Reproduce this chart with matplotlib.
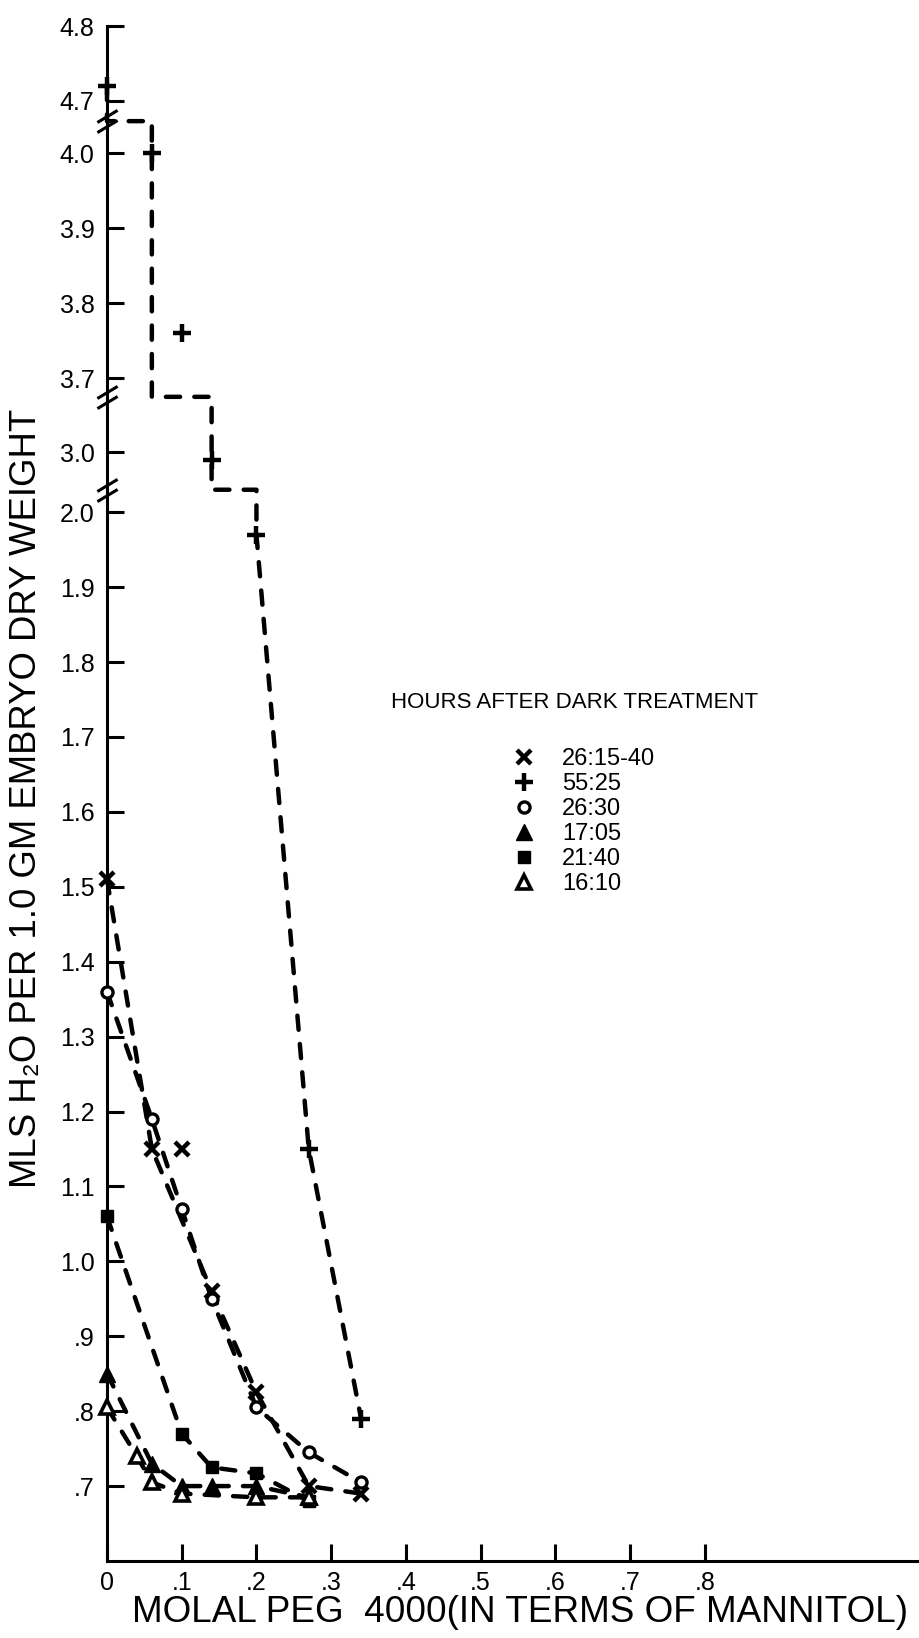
import numpy as np
import matplotlib
matplotlib.use("Agg")
import matplotlib.pyplot as plt
from matplotlib.path import Path
from matplotlib import font_manager

# molal PEG 4000 (x) and mls H2O per 1.0 gm embryo dry weight (y), one pair per treatment
peg_2615 = [0.00, 0.06, 0.10, 0.14, 0.20, 0.27, 0.34]
h2o_2615 = [1.51, 1.15, 1.15, 0.96, 0.825, 0.70, 0.69]
off_2615 = [2]          # points left off the fitted curve

peg_5525 = [0.00, 0.06, 0.10, 0.14, 0.20, 0.27, 0.34]
h2o_5525 = [4.72, 4.00, 3.76, 2.99, 1.97, 1.15, 0.79]
off_5525 = [2]

peg_2630 = [0.00, 0.06, 0.10, 0.14, 0.20, 0.27, 0.34]
h2o_2630 = [1.36, 1.19, 1.07, 0.95, 0.805, 0.745, 0.705]

peg_1705 = [0.00, 0.06, 0.10, 0.14, 0.20, 0.27]
h2o_1705 = [0.85, 0.73, 0.70, 0.70, 0.70, 0.685]

peg_2140 = [0.00, 0.10, 0.14, 0.20, 0.27]
h2o_2140 = [1.06, 0.77, 0.725, 0.717, 0.68]

peg_1610 = [0.00, 0.04, 0.06, 0.10, 0.20, 0.27]
h2o_1610 = [0.805, 0.74, 0.705, 0.69, 0.685, 0.685]

labels = ["26:15-40", "55:25", "26:30", "17:05", "21:40", "16:10"]

x_ticks = [0, .1, .2, .3, .4, .5, .6, .7, .8]
x_tick_labels = ["0", ".1", ".2", ".3", ".4", ".5", ".6", ".7", ".8"]
y_ticks = [.7, .8, .9, 1.0, 1.1, 1.2, 1.3, 1.4, 1.5, 1.6, 1.7, 1.8, 1.9, 2.0,
           3.0, 3.7, 3.8, 3.9, 4.0, 4.7, 4.8]
y_tick_labels = [".7", ".8", ".9", "1.0", "1.1", "1.2", "1.3", "1.4", "1.5", "1.6",
                 "1.7", "1.8", "1.9", "2.0", "3.0", "3.7", "3.8", "3.9", "4.0", "4.7", "4.8"]

# gaps cut out of the y axis (low, high)
y_cuts = [(2.03, 2.95), (3.074, 3.675), (4.043, 4.673)]


def fwd(v):
    v = np.asarray(v, dtype=float)
    u = v.copy()
    for lo, hi in y_cuts:
        u = u - np.clip(v - lo, 0, hi - lo)
    return u


def inv(u):
    u = np.asarray(u, dtype=float)
    v = u.copy()
    removed = 0.0
    for lo, hi in y_cuts:
        lo_u = lo - removed
        v = v + np.where(u > lo_u, hi - lo, 0.0)
        removed += hi - lo
    return v


def stepped(xs, ys, skip=()):
    # polyline through the points; crossing an axis break runs along the break
    pts = [(x, y) for i, (x, y) in enumerate(zip(xs, ys)) if i not in skip]
    lx, ly = [pts[0][0]], [pts[0][1]]
    for (x0, y0), (x1, y1) in zip(pts[:-1], pts[1:]):
        for lo, hi in y_cuts:
            if y0 >= hi and y1 <= lo:
                lx += [x0, x1]
                ly += [lo, lo]
        lx.append(x1)
        ly.append(y1)
    return lx, ly


avail = {f.name for f in font_manager.fontManager.ttflist}
base = "Liberation Sans" if "Liberation Sans" in avail else "DejaVu Sans"
narrow = "Liberation Sans Narrow" in avail
label_family = ["Liberation Sans Narrow" if narrow else base, "DejaVu Sans"]
ylab_size = 31 if narrow else 26.3
xlab_size = 31 if narrow else 26.6
plt.rcParams["font.family"] = [base, "DejaVu Sans"]

fig = plt.figure(figsize=(9.2, 16.38), dpi=100)
ax = fig.add_axes([107 / 920, 1 - 1561 / 1638, 813 / 920, 1535 / 1638])
ax.set_yscale("function", functions=(fwd, inv))
ax.set_xlim(0, 1.088)
ax.set_ylim(0.6, 4.8)

dash = dict(color="black", lw=3.2, linestyle=(0, (3.2, 3.2)),
            dash_capstyle="round", zorder=2, clip_on=False)

series = [
    (peg_2615, h2o_2615, off_2615, dict(marker="x", ms=10, mew=3.2, color="black")),
    (peg_5525, h2o_5525, off_5525, dict(marker="+", ms=13, mew=3.2, color="black")),
    (peg_2630, h2o_2630, [], dict(marker="o", ms=8, mew=2.4, mfc="white", mec="black")),
    (peg_1705, h2o_1705, [], dict(marker="^", ms=11, mew=1, color="black")),
    (peg_2140, h2o_2140, [], dict(marker="s", ms=9, mew=1, color="black")),
    (peg_1610, h2o_1610, [], dict(marker="^", ms=10, mew=2.6, mfc="white", mec="black")),
]

handles = []
for (xs, ys, skip, style), name in zip(series, labels):
    lx, ly = stepped(xs, ys, skip)
    ax.plot(lx, ly, **dash)
    h, = ax.plot(xs, ys, ls="none", zorder=4, clip_on=False, label=name, **style)
    handles.append(h)

# double-slash break marks on the y axis
slash = Path([(-10, -1), (10, 11), (-10, -11), (10, 1)],
             [Path.MOVETO, Path.LINETO, Path.MOVETO, Path.LINETO])
ax.plot([0] * len(y_cuts), [lo for lo, hi in y_cuts], ls="none", marker=slash,
        ms=16, mew=2.2, color="black", zorder=5, clip_on=False)

for side in ["top", "right"]:
    ax.spines[side].set_visible(False)
for side in ["left", "bottom"]:
    ax.spines[side].set_linewidth(2.2)

ax.set_xticks(x_ticks)
ax.set_xticklabels(x_tick_labels)
ax.set_yticks(y_ticks)
ax.set_yticklabels(y_tick_labels)
ax.yaxis.set_minor_locator(plt.NullLocator())
ax.tick_params(direction="in", length=12, width=2.2, colors="black")
ax.tick_params(axis="y", labelsize=18, pad=9)
ax.tick_params(axis="x", labelsize=18, pad=7)

fig.text(27 / 920, 1 - 798 / 1638, "MLS H\u2082O PER 1.0 GM EMBRYO DRY WEIGHT",
         rotation=90, ha="center", va="center", fontsize=ylab_size, family=label_family)
fig.text(520 / 920, 1 - 1613 / 1638, "MOLAL PEG  4000(IN TERMS OF MANNITOL)",
         ha="center", va="center", fontsize=xlab_size, family=label_family)

fig.text(575 / 920, 1 - 702 / 1638, "HOURS AFTER DARK TREATMENT",
         ha="center", va="center", fontsize=16)
ax.legend(handles=handles, loc="upper left", bbox_to_anchor=(0.5572, 0.5433),
          bbox_transform=fig.transFigure, frameon=False, fontsize=17, numpoints=1,
          handlelength=1.0, handletextpad=1.1, labelspacing=0.13,
          borderpad=0, borderaxespad=0)

fig.savefig("out.png", dpi=100, facecolor="white")
